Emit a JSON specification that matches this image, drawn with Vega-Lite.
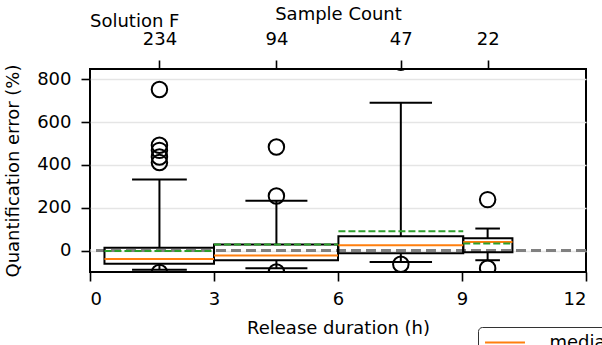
{
  "$schema": "https://vega.github.io/schema/vega-lite/v6.json",
  "width": 496,
  "height": 203,
  "padding": {"left": 4, "top": 5, "right": 0, "bottom": 0},
  "background": "white",
  "config": {
    "font": "DejaVu Sans",
    "view": {"stroke": "black", "strokeWidth": 2},
    "axis": {
      "labelFont": "DejaVu Sans", "labelFontSize": 18, "labelColor": "black",
      "titleFont": "DejaVu Sans", "titleFontSize": 18, "titleFontWeight": "normal", "titleColor": "black",
      "tickColor": "black", "tickWidth": 1.6, "tickSize": 9, "domain": false, "labelPadding": 9
    }
  },
  "title": {"text": "Solution F", "anchor": "start", "frame": "group", "fontSize": 18, "fontWeight": "normal", "font": "DejaVu Sans", "color": "black", "dy": 30},
  "datasets": {
    "boxes": [
      {"pos": 1.68, "xlo": 0.35, "xhi": 3.0, "q1": -62, "q3": 13, "med": -39, "mean": -2, "wlo": -89, "whi": 332, "n": 234},
      {"pos": 4.51, "xlo": 3.0, "xhi": 6.0, "q1": -45, "q3": 29, "med": -23, "mean": 29, "wlo": -82, "whi": 233, "n": 94},
      {"pos": 7.52, "xlo": 6.01, "xhi": 9.03, "q1": -13, "q3": 67, "med": 25, "mean": 90, "wlo": -53, "whi": 690, "n": 47},
      {"pos": 9.62, "xlo": 9.03, "xhi": 10.22, "q1": -8, "q3": 58, "med": 40, "mean": 33, "wlo": -45, "whi": 103, "n": 22}
    ],
    "outliers": [
      {"pos": 1.68, "val": 752}, {"pos": 1.68, "val": 492}, {"pos": 1.68, "val": 468},
      {"pos": 1.68, "val": 437}, {"pos": 1.68, "val": 411}, {"pos": 1.68, "val": -102},
      {"pos": 4.51, "val": 484}, {"pos": 4.51, "val": 255}, {"pos": 4.51, "val": -100},
      {"pos": 7.52, "val": 880}, {"pos": 7.52, "val": -64},
      {"pos": 9.62, "val": 238}, {"pos": 9.62, "val": -82}
    ],
    "ref": [{"ref": 0}]
  },
  "data": {"name": "boxes"},
  "resolve": {"axis": {"x": "independent"}},
  "layer": [
    {
      "data": {"name": "ref"},
      "mark": {"type": "rule", "color": "#808080", "strokeWidth": 3, "strokeDash": [10, 5]},
      "encoding": {
        "y": {"field": "ref", "type": "quantitative", "scale": {"domain": [-100, 848], "nice": false, "zero": false},
              "axis": {"title": "Quantification error (%)", "values": [0, 200, 400, 600, 800], "grid": true, "gridColor": "#e5e5e5", "gridWidth": 1.5, "titlePadding": 14, "labelPadding": 10}}
      }
    },
    {
      "mark": {"type": "rect", "fill": null, "fillOpacity": 0, "stroke": "black", "strokeWidth": 2},
      "encoding": {
        "x": {"field": "xlo", "type": "quantitative", "scale": {"domain": [0, 12], "nice": false, "zero": false},
              "axis": {"title": "Release duration (h)", "values": [0, 3, 6, 9, 12], "orient": "bottom", "grid": false, "titlePadding": 11, "labelPadding": 9}},
        "x2": {"field": "xhi"},
        "y": {"field": "q1", "type": "quantitative"},
        "y2": {"field": "q3"}
      }
    },
    {
      "mark": {"type": "rule", "color": "black", "strokeWidth": 2},
      "encoding": {
        "x": {"field": "pos", "type": "quantitative",
              "axis": {"orient": "top", "title": "Sample Count", "values": [1.68, 4.51, 7.52, 9.62], "grid": false, "tickSize": 9, "labelPadding": 12,
                       "labelExpr": "datum.value < 3 ? '234' : datum.value < 6 ? '94' : datum.value < 9 ? '47' : '22'", "titlePadding": 7}},
        "y": {"field": "wlo", "type": "quantitative"},
        "y2": {"field": "q1"}
      }
    },
    {
      "mark": {"type": "rule", "color": "black", "strokeWidth": 2},
      "encoding": {
        "x": {"field": "pos", "type": "quantitative", "axis": null},
        "y": {"field": "q3", "type": "quantitative"},
        "y2": {"field": "whi"}
      }
    },
    {
      "transform": [
        {"calculate": "datum.pos - (datum.xhi - datum.xlo) / 4", "as": "capLo"},
        {"calculate": "datum.pos + (datum.xhi - datum.xlo) / 4", "as": "capHi"}
      ],
      "layer": [
        {
          "mark": {"type": "rule", "color": "black", "strokeWidth": 2},
          "encoding": {
            "x": {"field": "capLo", "type": "quantitative", "axis": null},
            "x2": {"field": "capHi"},
            "y": {"field": "wlo", "type": "quantitative"}
          }
        },
        {
          "mark": {"type": "rule", "color": "black", "strokeWidth": 2},
          "encoding": {
            "x": {"field": "capLo", "type": "quantitative", "axis": null},
            "x2": {"field": "capHi"},
            "y": {"field": "whi", "type": "quantitative"}
          }
        }
      ]
    },
    {
      "mark": {"type": "rule", "strokeWidth": 2},
      "encoding": {
        "x": {"field": "xlo", "type": "quantitative", "axis": null},
        "x2": {"field": "xhi"},
        "y": {"field": "med", "type": "quantitative"},
        "color": {"datum": "median", "type": "nominal",
                  "scale": {"domain": ["median", "mean"], "range": ["#ff7f0e", "#2ca02c"]},
                  "legend": {"title": null, "orient": "none", "legendX": 388, "legendY": 258, "symbolType": "M-2.35,0H2.35",
                             "symbolSize": 289, "symbolStrokeWidth": 2, "symbolOffset": 11.5, "labelOffset": 35,
                             "labelFontSize": 18, "labelFont": "DejaVu Sans", "labelColor": "black",
                             "fillColor": "white", "strokeColor": "#333", "cornerRadius": 4, "padding": 6}}
      }
    },
    {
      "mark": {"type": "rule", "strokeWidth": 2, "strokeDash": [7, 3]},
      "encoding": {
        "x": {"field": "xlo", "type": "quantitative", "axis": null},
        "x2": {"field": "xhi"},
        "y": {"field": "mean", "type": "quantitative"},
        "color": {"datum": "mean", "type": "nominal"}
      }
    },
    {
      "data": {"name": "outliers"},
      "mark": {"type": "point", "shape": "circle", "filled": false, "stroke": "black", "strokeWidth": 2, "size": 240, "clip": true, "opacity": 1},
      "encoding": {
        "x": {"field": "pos", "type": "quantitative", "axis": null},
        "y": {"field": "val", "type": "quantitative"}
      }
    }
  ]
}
